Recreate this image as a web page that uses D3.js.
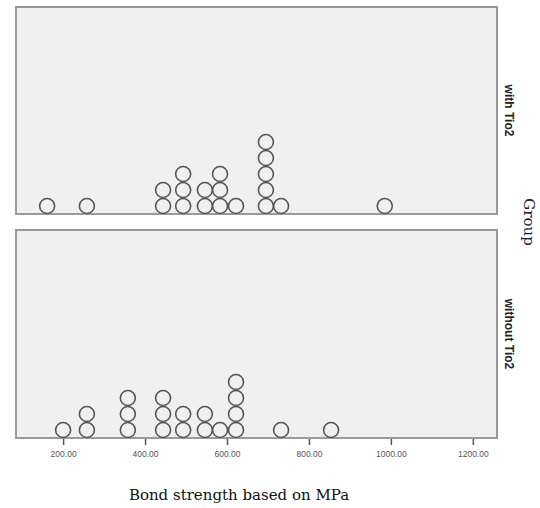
<!DOCTYPE html>
<html>
<head>
<meta charset="utf-8">
<script src="https://cdn.jsdelivr.net/npm/d3@7"></script>
<style>
  body { margin: 0; background: #fff; }
  svg { display: block; }
  .tick text { font-family: "Liberation Sans", Arial, sans-serif; font-size: 8.5px; fill: #555; }
</style>
</head>
<body>
<svg id="chart"></svg>
<script>
var width = 540, height = 508;

// dot plot data (bond strength, MPa)
var groups = ["with Tio2", "without Tio2"];
var withTio2 = [161, 258, 444, 444, 493, 493, 493, 546, 546, 583, 583, 583, 622,
  695, 695, 695, 695, 695, 732, 985];
var withoutTio2 = [200, 258, 258, 358, 358, 358, 444, 444, 444, 493, 493, 546, 546,
  583, 622, 622, 622, 622, 732, 854];
var tickValues = [200, 400, 600, 800, 1000, 1200];

var panels = [
  {name: groups[0], values: withTio2, top: 7, bottom: 214},
  {name: groups[1], values: withoutTio2, top: 230, bottom: 438}
];

var svg = d3.select("#chart")
  .attr("width", width)
  .attr("height", height);

var x = d3.scaleLinear()
  .domain([85, 1259])
  .range([16, 497]);

var r = 7.5;

panels.forEach(function(p, pi) {
  var g = svg.append("g").attr("class", "panel");

  g.append("rect")
    .attr("x", x.range()[0])
    .attr("y", p.top)
    .attr("width", x.range()[1] - x.range()[0])
    .attr("height", p.bottom - p.top)
    .attr("fill", "#f0f0f0")
    .attr("stroke", "#9a9a9a")
    .attr("stroke-width", 2);

  // stack index -> pixel
  var y = d3.scaleLinear()
    .domain([0, 1])
    .range([p.bottom - r - 0.5, p.bottom - r - 16.5]);

  var counts = {};
  var dots = p.values.map(function(v) {
    counts[v] = (counts[v] || 0);
    var d = {value: v, stack: counts[v]};
    counts[v]++;
    return d;
  });

  g.selectAll("circle").data(dots).enter()
    .append("circle")
    .attr("cx", function(d) { return x(d.value); })
    .attr("cy", function(d) { return y(d.stack); })
    .attr("r", r)
    .attr("fill", "#f0f0f0")
    .attr("stroke", "#555")
    .attr("stroke-width", 1.6);

  g.append("text")
    .attr("transform", "translate(" + 505 + "," + ((p.top + p.bottom) / 2) + ") rotate(90)")
    .attr("text-anchor", "middle")
    .style("font-family", "Liberation Sans, Arial, sans-serif")
    .style("font-weight", "bold")
    .style("font-size", "12px")
    .attr("fill", "#222")
    .text(p.name);

  if (pi == 1) {
    var xAxis = d3.axisBottom(x)
      .tickValues(tickValues)
      .tickSize(6)
      .tickFormat(d3.format(".2f"));
    var ax = svg.append("g")
      .attr("transform", "translate(0," + (p.bottom + 1) + ")")
      .call(xAxis);
    ax.select(".domain").remove();
    ax.selectAll(".tick line").attr("stroke", "#555").attr("stroke-width", 1.5);
    ax.selectAll(".tick text").attr("dy", "1.1em");
  }
});

svg.append("text")
  .attr("transform", "translate(" + 524 + "," + 222 + ") rotate(90)")
  .attr("text-anchor", "middle")
  .style("font-family", "DejaVu Serif, serif")
  .style("font-size", "15px")
  .attr("fill", "#1a1a2e")
  .text("Group");

svg.append("text")
  .attr("x", 239)
  .attr("y", 500)
  .attr("text-anchor", "middle")
  .style("font-family", "DejaVu Serif, serif")
  .style("font-size", "15px")
  .attr("fill", "#111")
  .text("Bond strength based on MPa");
</script>
</body>
</html>
